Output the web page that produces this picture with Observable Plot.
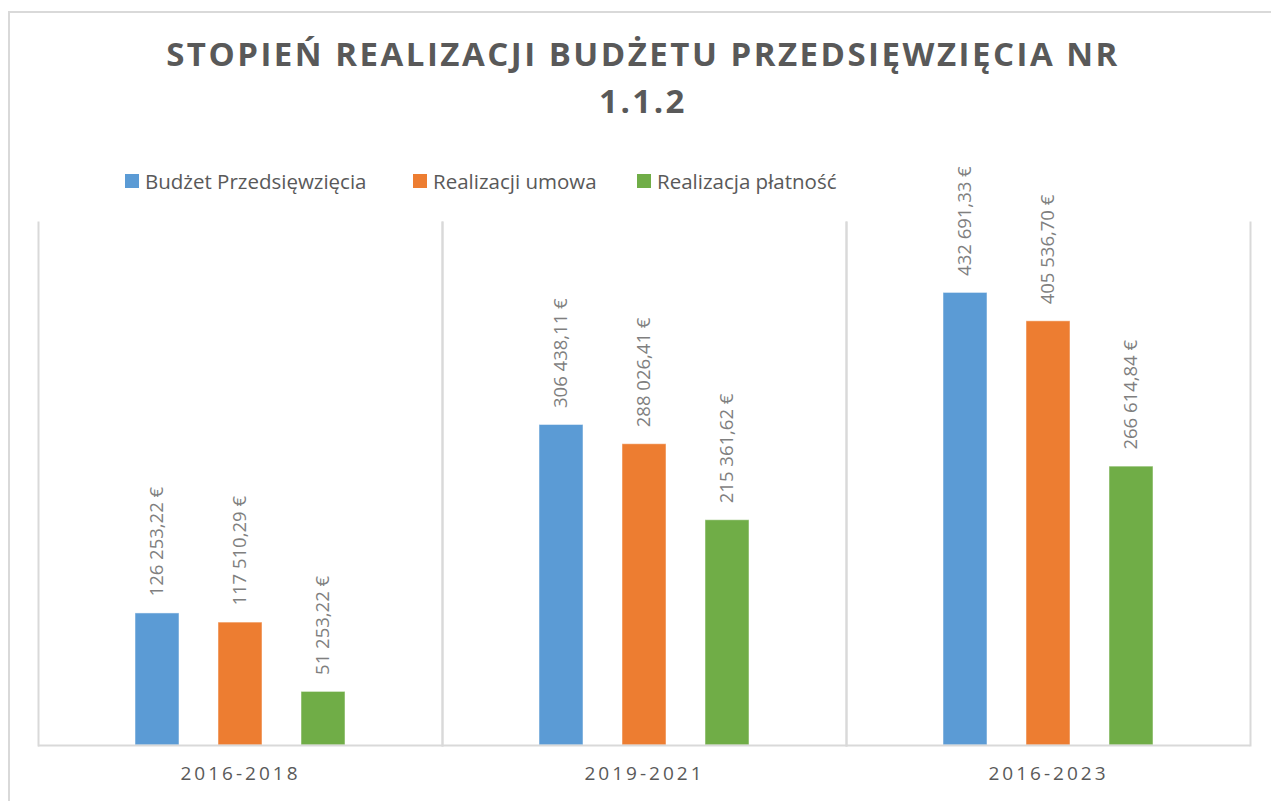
<!DOCTYPE html>
<html>
<head>
<meta charset="utf-8">
<script src="https://cdn.jsdelivr.net/npm/d3@7"></script>
<script src="https://cdn.jsdelivr.net/npm/@observablehq/plot@0.6"></script>
<style>
  html, body { margin: 0; padding: 0; background: #fff; overflow: hidden; }
  #wrap { position: relative; width: 1271px; height: 801px; overflow: hidden; font-family: "Open Sans", sans-serif; }
  #border { position: absolute; left: 8px; top: 11px; width: 1400px; height: 900px; border: 2px solid #d9d9d9; box-sizing: border-box; }
  #title { position: absolute; left: 0; top: 30px; width: 1286px; text-align: center; color: #595959; font-weight: 700; font-size: 33px; letter-spacing: 2.5px; line-height: 47px; }
  .leg { position: absolute; top: 168px; font-size: 20.5px; color: #595959; white-space: nowrap; line-height: 26px; }
  .sw { position: absolute; top: 174px; width: 14px; height: 14px; }
  #chart { position: absolute; left: 0; top: 0; }
  #chart svg [aria-label="fx-axis tick label"] text { letter-spacing: 3px; }
</style>
</head>
<body>
<div id="wrap">
  <div id="border"></div>
  <div id="title">STOPIEŃ REALIZACJI BUDŻETU PRZEDSIĘWZIĘCIA NR<br>1.1.2</div>
  <div id="legend"></div>
  <div id="chart"></div>
</div>
<script>
const periods = ["2016-2018", "2019-2021", "2016-2023"];
const seriesNames = ["Budżet Przedsięwzięcia", "Realizacji umowa", "Realizacja płatność"];
const budzet = [126253.22, 306438.11, 432691.33];
const umowa = [117510.29, 288026.41, 405536.70];
const platnosc = [51253.22, 215361.62, 266614.84];
const colors = ["#5b9bd5", "#ed7d31", "#70ad47"];

const seriesValues = [budzet, umowa, platnosc];
const data = [];
periods.forEach((p, i) => {
  seriesNames.forEach((s, j) => {
    data.push({ period: p, series: s, value: seriesValues[j][i] });
  });
});

function fmt(v) {
  const [intPart, dec] = v.toFixed(2).split(".");
  const grouped = intPart.replace(/\B(?=(\d{3})+(?!\d))/g, " ");
  return grouped + "," + dec + " €";
}

// legend (HTML)
const legendLefts = [125, 413, 637];
const legend = document.getElementById("legend");
seriesNames.forEach((s, j) => {
  const sw = document.createElement("div");
  sw.className = "sw";
  sw.style.left = legendLefts[j] + "px";
  sw.style.background = colors[j];
  legend.appendChild(sw);
  const t = document.createElement("div");
  t.className = "leg";
  t.style.left = (legendLefts[j] + 20) + "px";
  t.textContent = s;
  legend.appendChild(t);
});

const chart = Plot.plot({
  width: 1271,
  height: 801,
  marginTop: 222,
  marginBottom: 56,
  marginLeft: 38,
  marginRight: 21,
  style: { fontFamily: "Open Sans, sans-serif", background: "transparent", overflow: "visible" },
  fx: { domain: periods, padding: 0, label: null },
  x: { domain: seriesNames, paddingInner: 0.473, paddingOuter: 1.16, axis: null },
  y: { domain: [0, 500000], axis: null },
  color: { domain: seriesNames, range: colors },
  marks: [
    Plot.frame({ anchor: "left", stroke: "#d9d9d9", strokeWidth: 2 }),
    Plot.frame({ anchor: "right", stroke: "#d9d9d9", strokeWidth: 2 }),
    Plot.barY(data, { fx: "period", x: "series", y: "value", fill: "series", stroke: "#ffffff", strokeOpacity: 0.5, strokeWidth: 1 }),
    Plot.ruleY([0], { stroke: "#d9d9d9", strokeWidth: 2 }),
    Plot.text(data, {
      fx: "period", x: "series", y: "value",
      text: d => fmt(d.value),
      rotate: -90, textAnchor: "start", dy: -17,
      fill: "#7f7f7f", fontSize: 18.5
    }),
    Plot.axisFx({ anchor: "bottom", tickSize: 0, tickPadding: 21, fontSize: 19, color: "#595959", label: null })
  ]
});
document.getElementById("chart").appendChild(chart);
</script>
</body>
</html>
